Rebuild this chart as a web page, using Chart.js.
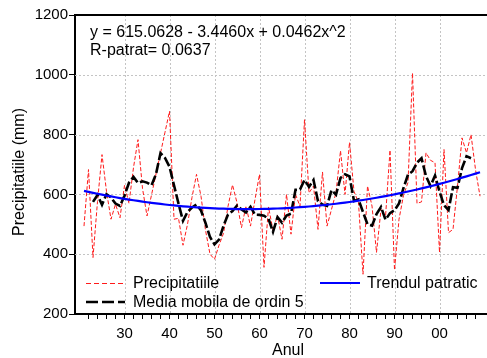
<!DOCTYPE html>
<html><head><meta charset="utf-8">
<script src="https://cdn.jsdelivr.net/npm/chart.js@4"></script>
<style>html,body{margin:0;padding:0;background:#fff}</style>
</head><body>
<canvas id="c" width="487" height="358"></canvas>
<script>
// ---- data ----
const startYear = 1921;
const precip = [
  494, 683, 389, 576, 733, 610, 517, 567, 522, 630,   // 1921-1930
  570, 690, 783, 620, 528, 598, 668, 738, 808, 878,   // 1931-1940
  517, 520, 430, 500, 590, 667, 594, 480, 400, 383,   // 1941-1950
  430, 470, 560, 632, 572, 489, 561, 494, 583, 667,   // 1951-1960
  356, 558, 480, 530, 450, 600, 467, 600, 560, 850,   // 1961-1970
  605, 628, 483, 675, 494, 550, 606, 746, 600, 774,   // 1971-1980
  610, 572, 333, 628, 561, 406, 550, 525, 748, 347,   // 1981-1990
  517, 597, 640, 1006, 570, 575, 739, 714, 706, 406,  // 1991-2000
  750, 472, 483, 628, 789, 739, 800, 683, 594         // 2001-2009
];
const trendCoef = [615.0628, -3.4460, 0.0462];   // from the equation printed on the chart
const maWindow = 5;
const yTicks = [200, 400, 600, 800, 1000, 1200];
const xMajorTicks = [1930, 1940, 1950, 1960, 1970, 1980, 1990, 2000];
const xTickLabels = ['30', '40', '50', '60', '70', '80', '90', '00'];
const xMinorTicks = [1922,1924,1926,1928,1930,1932,1934,1936,1938,1940,1942,1944,1946,1948,1950,
  1952,1954,1956,1958,1960,1962,1964,1966,1968,1970,1972,1974,1976,1978,1980,1982,1984,1986,1988,
  1990,1992,1994,1996,1998,2000,2002,2004,2006,2008];
const eqText = 'y = 615.0628 - 3.4460x + 0.0462x^2';
const r2Text = 'R-patrat= 0.0637';
const seriesNames = ['Precipitatiile', 'Media mobila de ordin 5', 'Trendul patratic'];
const xTitle = 'Anul';
const yTitle = 'Precipitatiile (mm)';

// ---- derived series ----
const years = precip.map((_, i) => startYear + i);
const redPts = precip.map((v, i) => ({x: years[i], y: v}));
const half = Math.floor(maWindow / 2);
const maPts = [];
for (let i = half; i < precip.length - half; i++) {
  let s = 0; for (let k = -half; k <= half; k++) s += precip[i + k];
  maPts.push({x: years[i], y: s / maWindow});
}
const trendPts = years.map((yr, i) => {
  const t = i + 1;
  return {x: yr, y: trendCoef[0] + trendCoef[1] * t + trendCoef[2] * t * t};
});

const FONT = '"Liberation Sans", Arial, sans-serif';
const RED = '#ff1a1a', BLUE = '#0000ff';

const decor = {
  id: 'decor',
  beforeDatasetsDraw(chart) {
    const {ctx, chartArea: a, scales: {x, y}} = chart;
    ctx.save();
    ctx.strokeStyle = '#c4c4c4'; ctx.lineWidth = 1; ctx.setLineDash([2, 2]);
    xMajorTicks.forEach(v => { const px = Math.round(x.getPixelForValue(v)) + 0.5;
      ctx.beginPath(); ctx.moveTo(px, a.top); ctx.lineTo(px, a.bottom); ctx.stroke(); });
    yTicks.slice(1, -1).forEach(v => { const py = Math.round(y.getPixelForValue(v)) + 0.5;
      ctx.beginPath(); ctx.moveTo(a.left, py); ctx.lineTo(a.right, py); ctx.stroke(); });
    ctx.setLineDash([]);
    ctx.strokeStyle = '#000'; ctx.lineWidth = 2;
    ctx.beginPath(); ctx.moveTo(a.left, a.top); ctx.lineTo(a.right + 2, a.top); ctx.stroke();
    ctx.restore();
  },
  afterDraw(chart) {
    const {ctx} = chart;
    ctx.save();
    ctx.fillStyle = '#000';
    ctx.font = '16px ' + FONT;
    ctx.textBaseline = 'alphabetic'; ctx.textAlign = 'left';
    ctx.fillText(eqText, 90, 37);
    ctx.fillText(r2Text, 90, 55);
    // legend
    const rows = [283, 302];
    ctx.textBaseline = 'middle';
    ctx.lineWidth = 1; ctx.strokeStyle = RED; ctx.setLineDash([5, 3]);
    ctx.beginPath(); ctx.moveTo(86, rows[0] + 0.5); ctx.lineTo(125, rows[0] + 0.5); ctx.stroke();
    ctx.fillText(seriesNames[0], 133, rows[0] + 1);
    ctx.lineWidth = 2.5; ctx.strokeStyle = '#000'; ctx.setLineDash([12, 4]);
    ctx.beginPath(); ctx.moveTo(86, rows[1]); ctx.lineTo(125, rows[1]); ctx.stroke();
    ctx.fillText(seriesNames[1], 133, rows[1] + 1);
    ctx.lineWidth = 2; ctx.strokeStyle = BLUE; ctx.setLineDash([]);
    ctx.beginPath(); ctx.moveTo(320, rows[0]); ctx.lineTo(360, rows[0]); ctx.stroke();
    ctx.fillText(seriesNames[2], 367, rows[0] + 1);
    // axis titles
    ctx.textAlign = 'center'; ctx.textBaseline = 'alphabetic';
    ctx.fillText(xTitle, 288, 355);
    ctx.translate(24, 172); ctx.rotate(-Math.PI / 2);
    ctx.fillText(yTitle, 0, 0);
    ctx.restore();
  }
};

new Chart(document.getElementById('c'), {
  type: 'line',
  data: {
    datasets: [
      {label: seriesNames[0], data: redPts, borderColor: RED, borderWidth: 1, borderDash: [4, 2],
       pointRadius: 0, tension: 0, order: 3},
      {label: seriesNames[1], data: maPts, borderColor: '#000', borderWidth: 2.6, borderDash: [10, 3],
       pointRadius: 0, tension: 0, order: 2},
      {label: seriesNames[2], data: trendPts, borderColor: BLUE, borderWidth: 2.2,
       pointRadius: 0, tension: 0, order: 1}
    ]
  },
  options: {
    responsive: false, animation: false, devicePixelRatio: 1,
    layout: {padding: {top: 15, right: 1, left: 0, bottom: 0}},
    plugins: {legend: {display: false}, tooltip: {enabled: false}},
    scales: {
      x: {
        type: 'linear', min: 1919, max: 2010.33,
        afterBuildTicks: s => { s.ticks = xMinorTicks.map(v => ({value: v})); },
        afterFit: s => { s.height = 44; },
        ticks: {autoSkip: false, maxRotation: 0, padding: 6, color: '#000',
          font: {family: FONT, size: 15},
          callback: v => { const i = xMajorTicks.indexOf(v); return i >= 0 ? xTickLabels[i] : ''; }},
        grid: {drawOnChartArea: false, drawTicks: true, tickLength: 5, tickColor: '#000', tickWidth: 1},
        border: {color: '#000', width: 2}
      },
      y: {
        min: 200, max: 1200,
        afterBuildTicks: s => { s.ticks = yTicks.map(v => ({value: v})); },
        afterFit: s => { s.width = 75; },
        ticks: {padding: 1, color: '#000', font: {family: FONT, size: 15},
          callback: v => String(v)},
        grid: {drawOnChartArea: false, drawTicks: true, tickLength: 6, tickColor: '#000', tickWidth: 1},
        border: {color: '#000', width: 2}
      }
    }
  },
  plugins: [decor]
});
</script>
</body></html>
